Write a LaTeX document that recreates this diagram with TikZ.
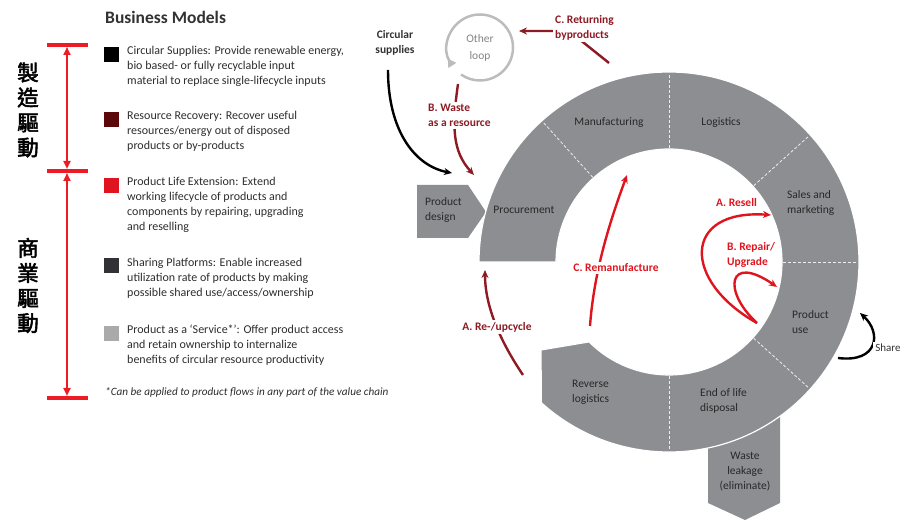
\documentclass[tikz,border=0pt]{standalone}
\usepackage{fontspec}
\setmainfont{Carlito}
\newfontfamily\cjk{Noto Sans CJK TC}[FakeBold=2.5]
\usetikzlibrary{arrows.meta}

\definecolor{ringgray}{RGB}{140,142,145}
\definecolor{loopgray}{RGB}{188,188,188}
\definecolor{ringtext}{RGB}{40,40,40}
\definecolor{legendtext}{RGB}{45,45,45}
\definecolor{wine}{RGB}{142,27,36}
\definecolor{brightred}{RGB}{224,20,30}
\definecolor{barred}{RGB}{237,28,36}
\definecolor{maroon}{RGB}{92,8,10}
\definecolor{darkslate}{RGB}{50,50,52}
\definecolor{palegray}{RGB}{170,170,170}

\tikzset{
	stagetext/.style={font=\fontsize{11.5}{15}\selectfont, text=ringtext, align=left, inner sep=0pt},
	legtext/.style={font=\fontsize{12}{15}\selectfont, text=legendtext, align=left, anchor=north west, inner sep=0pt},
	legbox/.style={minimum size=15pt, inner sep=0pt},
	flowlab/.style={font=\bfseries\fontsize{11.5}{15}\selectfont, align=left, fill=white, inner sep=2pt},
	cjklab/.style={font=\cjk\fontsize{21.5}{25}\selectfont, align=center, inner sep=0pt},
	winearrow/.style={wine, line width=2.4pt, -{Stealth[length=8pt,width=7pt]}},
	redarrow/.style={brightred, line width=2.4pt, -{Stealth[length=8pt,width=7pt]}},
	blackarrow/.style={black, line width=2.4pt, -{Stealth[length=8pt,width=7pt]}},
	redbar/.style={barred, line width=4pt},
	divider/.style={white!85!ringgray, densely dashed, line width=0.8pt},
}

\begin{document}
\begin{tikzpicture}[x=1pt,y=1pt]
	%%%%% START %%%%%
	\useasboundingbox (0,0) rectangle (906,521);
	
	% legend
	\node[font=\bfseries\fontsize{17.5}{20}\selectfont, text=darkslate, anchor=base west, inner sep=0pt] (title) at (105,497) {Business Models};
	
	\node[legbox, fill=black] (sq1) at (111.5,466.5) {};
	\node[legbox, fill=maroon] (sq2) at (111.5,401.5) {};
	\node[legbox, fill=brightred] (sq3) at (111.5,335.5) {};
	\node[legbox, fill=darkslate] (sq4) at (111.5,255.5) {};
	\node[legbox, fill=palegray] (sq5) at (111.5,187.5) {};
	
	\node[legtext] (txt1) at (127,475) {Circular Supplies: Provide renewable energy,\\bio based- or fully recyclable input\\material to replace single-lifecycle inputs};
	\node[legtext] (txt2) at (127,410) {Resource Recovery: Recover useful\\resources/energy out of disposed\\products or by-products};
	\node[legtext] (txt3) at (127,344) {Product Life Extension: Extend\\working lifecycle of products and\\components by repairing, upgrading\\and reselling};
	\node[legtext] (txt4) at (127,263) {Sharing Platforms: Enable increased\\utilization rate of products by making\\possible shared use/access/ownership};
	\node[legtext] (txt5) at (127,196) {Product as a `Service*': Offer product access\\and retain ownership to internalize\\benefits of circular resource productivity};
	\node[font=\itshape\fontsize{11.2}{14}\selectfont, text=legendtext, anchor=base west, inner sep=0pt] (note) at (105,125) {*Can be applied to product flows in any part of the value chain};
	
	% red bracket
	\coordinate (btop) at (67,476);
	\coordinate (bmid) at (67,350);
	\coordinate (bbot) at (67,123);
	\foreach \b in {btop,bmid,bbot}
		\draw[redbar] ([xshift=-20pt]\b) -- ([xshift=21pt]\b);
	\draw[barred, line width=2.5pt, {Triangle[length=8pt,width=7pt]}-{Triangle[length=8pt,width=7pt]}] ([yshift=-2pt]btop) -- ([yshift=2pt]bmid);
	\draw[barred, line width=2.5pt, {Triangle[length=8pt,width=7pt]}-{Triangle[length=8pt,width=7pt]}] ([yshift=-2pt]bmid) -- ([yshift=2pt]bbot);
	
	\node[cjklab] (make) at (28,411) {製\\造\\驅\\動};
	\node[cjklab] (trade) at (28,235.5) {商\\業\\驅\\動};
	
	% value chain ring
	\coordinate (hub) at (669,259);
	\fill[ringgray] (708,100) -- (708,18) -- (745,1) -- (780,18) -- (780,110) -- cycle;
	\fill[ringgray] (417,336) -- (468,336) -- (486,309) -- (468,283) -- (417,283) -- cycle;
	\filldraw[ringgray, draw=white, line width=1.2pt]
		([shift={(180:190)}]hub) arc[start angle=180, end angle=-132.2, radius=190pt]
		-- (541,171) -- ([shift={(-135:113)}]hub)
		arc[start angle=-135, end angle=180, radius=113pt] -- cycle;
	\foreach \a in {132,90,42,0,-42,-90}
		\draw[divider] ([shift={(\a:114)}]hub) -- ([shift={(\a:189)}]hub);
	
	\node[stagetext] (procure) at (524,311) {Procurement};
	\node[stagetext] (manuf) at (609,398) {Manufacturing};
	\node[stagetext] (logist) at (721,398) {Logistics};
	\node[stagetext, anchor=west] (sales) at (787,317.5) {Sales and\\marketing};
	\node[stagetext, anchor=west] (use) at (792,198.5) {Product\\use};
	\node[stagetext, anchor=west] (eol) at (700,120) {End of life\\disposal};
	\node[stagetext, anchor=west] (revlog) at (572,129) {Reverse\\logistics};
	\node[stagetext, align=center] (leak) at (745,49) {Waste\\leakage\\(eliminate)};
	\node[stagetext, anchor=west] (design) at (425,311) {Product\\design};
	
	% other loop
	\coordinate (loopc) at (480,473.5);
	\node[font=\fontsize{11.5}{17}\selectfont, text=loopgray!70!black, align=center] (oloop) at (loopc) {Other\\loop};
	\draw[loopgray, line width=2.5pt, {Triangle[reversed,length=8pt,width=9pt]}-] ([shift={(213:33)}]loopc) arc[start angle=213, end angle=-125, radius=33pt];
	
	% flows
	\node[font=\bfseries\fontsize{11.5}{15.5}\selectfont, text=darkslate, align=center] (csup) at (395,478) {Circular\\supplies};
	\coordinate (csend) at (452,348);
	\draw[blackarrow] (388,451) .. controls (388,390) and (415,355) .. (csend);
	
	\coordinate (wtop) at (458,437);
	\coordinate (wend) at (474,346);
	\draw[winearrow] (wtop) .. controls (452,395) and (452,370) .. (wend);
	\node[flowlab, text=wine, anchor=west] (wastelab) at (426,405.5) {B. Waste\\as a resource};
	
	\coordinate (rettail) at (609,458);
	\coordinate (retbend) at (569,490);
	\coordinate (retend) at (519,490);
	\draw[winearrow] (rettail) -- (retbend) -- (retend);
	\node[flowlab, text=wine, anchor=west] (retlab) at (553,493.5) {C. Returning\\byproducts};
	
	\coordinate (upstart) at (523,146);
	\coordinate (upend) at (485,251);
	\draw[winearrow] (upstart) .. controls (500,180) and (485,215) .. (upend);
	\node[flowlab, text=wine] (uplab) at (497,194) {A. Re-/upcycle};
	
	\coordinate (remstart) at (590,195);
	\coordinate (remend) at (627,346);
	\draw[redarrow] (remstart) .. controls (594,250) and (610,300) .. (remend);
	\node[flowlab, text=brightred] (remlab) at (616,253) {C. Remanufacture};
	
	\coordinate (fork) at (757,198);
	\coordinate (resellend) at (771,306);
	\coordinate (repairend) at (777,234);
	\draw[redarrow] (fork) .. controls (682,240) and (682,312) .. (resellend);
	\draw[redarrow] (fork) .. controls (722,230) and (728,268) .. (repairend);
	\node[flowlab, text=brightred, fill=none] (resell) at (736.5,318) {A. Resell};
	\node[flowlab, text=brightred, fill=none, anchor=west] (repair) at (725,266.5) {B. Repair/\\Upgrade};
	
	\coordinate (sharestart) at (838,163);
	\coordinate (shareend) at (860,208);
	\draw[blackarrow] (sharestart) .. controls (878,158) and (882,188) .. (shareend);
	\node[font=\fontsize{11}{14}\selectfont, text=darkslate, fill=white, inner sep=2pt] (share) at (888,173) {Share};
	
	%%%%% END %%%%%
\end{tikzpicture}
\end{document}
